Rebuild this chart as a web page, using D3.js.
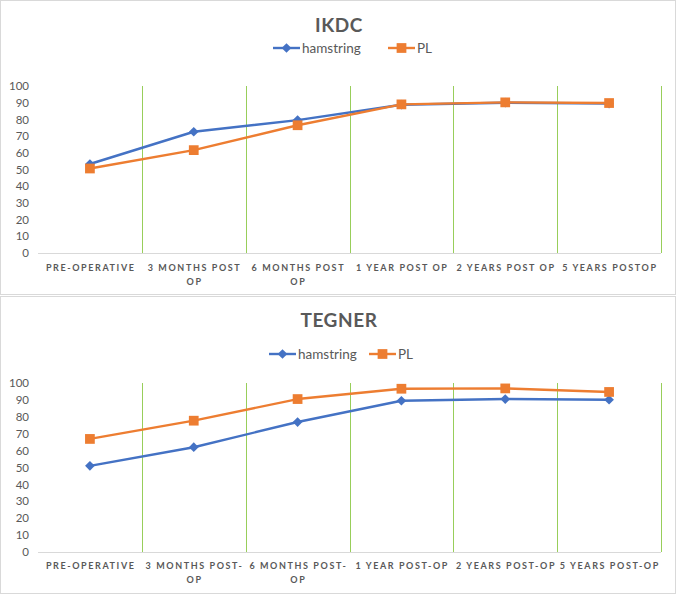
<!DOCTYPE html>
<html><head><meta charset="utf-8">
<script src="https://cdn.jsdelivr.net/npm/d3@7"></script>
<style>
body{margin:0;background:#fff;}
svg{display:block;font-family:Lato,"Open Sans",sans-serif;}
</style></head>
<body><svg id="c" width="677" height="594"></svg>
<script>
const seriesNames = ["hamstring", "PL"];
const ikdcCategories = ["PRE-OPERATIVE", "3 MONTHS POST\nOP", "6 MONTHS POST\nOP", "1 YEAR POST OP", "2 YEARS POST OP", "5 YEARS POSTOP"];
const ikdcHamstring = [53.3, 72.6, 79.6, 88.8, 90.0, 89.5];
const ikdcPL = [50.6, 61.6, 76.5, 89.0, 90.2, 89.8];
const tegnerCategories = ["PRE-OPERATIVE", "3 MONTHS POST-\nOP", "6 MONTHS POST-\nOP", "1 YEAR POST-OP", "2 YEARS POST-OP", "5 YEARS POST-OP"];
const tegnerHamstring = [51.0, 62.0, 76.9, 89.5, 90.5, 90.1];
const tegnerPL = [66.9, 77.7, 90.5, 96.6, 96.8, 94.7];
const yTicks = [0, 10, 20, 30, 40, 50, 60, 70, 80, 90, 100];

const BLUE = "#4472C4", ORANGE = "#ED7D31", GREEN = "#98CE5A", TXT = "#595959";
const svg = d3.select("#c");

function panel(cfg) {
  const g = svg.append("g");
  g.append("rect").attr("x", 0.5).attr("y", cfg.top + 0.5).attr("width", 675).attr("height", cfg.h)
    .attr("fill", "#fff").attr("stroke", "#d9d9d9").attr("stroke-width", 1);
  g.append("text").attr("x", 339).attr("y", cfg.titleY).attr("text-anchor", "middle")
    .attr("font-size", 19).attr("font-weight", 700).attr("fill", TXT).attr("letter-spacing", 0.6)
    .text(cfg.title);

  const x = d3.scaleBand().domain(cfg.cats).range([38, 661]).padding(0);
  const y = d3.scaleLinear().domain([0, 100]).range(cfg.yRange);
  const crisp = v => Math.round(v) + 0.5;

  g.append("g").selectAll("line").data(cfg.cats).join("line")
    .attr("x1", d => crisp(x(d) + x.bandwidth())).attr("x2", d => crisp(x(d) + x.bandwidth()))
    .attr("y1", y(100)).attr("y2", y(0)).attr("stroke", GREEN).attr("stroke-width", 1);

  g.append("line").attr("x1", 38).attr("x2", 661).attr("y1", crisp(y(0))).attr("y2", crisp(y(0)))
    .attr("stroke", "#d9d9d9").attr("stroke-width", 1);

  const ya = g.append("g").attr("transform", "translate(29,0)")
    .call(d3.axisLeft(y).tickValues(yTicks).tickSize(0).tickPadding(0));
  ya.select(".domain").remove();
  ya.selectAll("text").attr("font-size", 11.5).attr("fill", TXT).attr("font-family", "Lato,'Open Sans',sans-serif");

  const cl = g.append("g").selectAll("text").data(cfg.cats).join("text")
    .attr("text-anchor", "middle").attr("font-size", 9).attr("font-weight", 700)
    .attr("fill", TXT).attr("letter-spacing", 1.6);
  cl.each(function(d) {
    const t = d3.select(this);
    d.split("\n").forEach((line, i) => {
      t.append("tspan").attr("x", x(d) + x.bandwidth() / 2 + 0.8).attr("y", cfg.labelY + i * 13.5).text(line);
    });
  });

  const line = d3.line().x((d, i) => x(cfg.cats[i]) + x.bandwidth() / 2).y(d => y(d));
  const series = [
    {name: seriesNames[0], vals: cfg.ham, color: BLUE, sym: d3.symbolDiamond2, size: 60},
    {name: seriesNames[1], vals: cfg.pl, color: ORANGE, sym: d3.symbolSquare, size: 95}
  ];
  series.forEach(s => {
    g.append("path").datum(s.vals).attr("d", line).attr("fill", "none")
      .attr("stroke", s.color).attr("stroke-width", 2.4).attr("stroke-linejoin", "round");
    g.append("g").selectAll("path").data(s.vals).join("path")
      .attr("d", d3.symbol(s.sym, s.size))
      .attr("transform", (d, i) => `translate(${x(cfg.cats[i]) + x.bandwidth() / 2},${y(d)})`)
      .attr("fill", s.color);
  });

  cfg.legend.forEach((lx, i) => {
    const s = series[i];
    const lg = g.append("g");
    lg.append("line").attr("x1", lx).attr("x2", lx + 27).attr("y1", cfg.legendY).attr("y2", cfg.legendY)
      .attr("stroke", s.color).attr("stroke-width", 2.4);
    lg.append("path").attr("d", d3.symbol(s.sym, s.size)())
      .attr("transform", `translate(${lx + 13.5},${cfg.legendY})`).attr("fill", s.color);
    lg.append("text").attr("x", lx + 29).attr("y", cfg.legendY + 4.5).attr("font-size", 13.5)
      .attr("fill", TXT).text(s.name);
  });
}

panel({top: 0, h: 294, title: "IKDC", titleY: 32, legendY: 48, legend: [273, 388],
  yRange: [253, 86], labelY: 271, cats: ikdcCategories, ham: ikdcHamstring, pl: ikdcPL});
panel({top: 296, h: 297, title: "TEGNER", titleY: 327, legendY: 354, legend: [269, 369],
  yRange: [552, 383], labelY: 569, cats: tegnerCategories, ham: tegnerHamstring, pl: tegnerPL});
</script></body></html>
